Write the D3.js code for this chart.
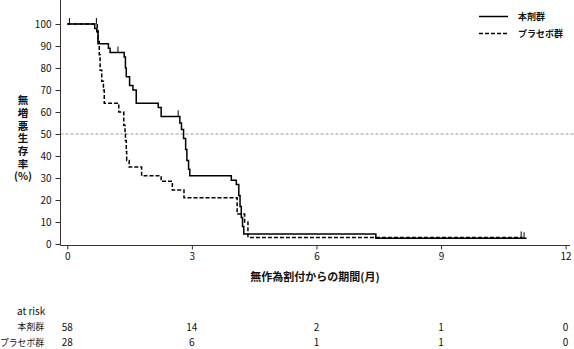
<!DOCTYPE html>
<html>
<head>
<meta charset="utf-8">
<script src="https://cdn.jsdelivr.net/npm/d3@7"></script>
<style>
  body { margin: 0; background: #fff; }
  text { font-family: "Noto Sans CJK JP", "Noto Sans", sans-serif; fill: #111; }
  .tick text { font-size: 10px; }
</style>
</head>
<body>
<div id="chart"></div>
<script>
// values
var monthTicks = [0, 3, 6, 9, 12];
var survTicks = [0, 10, 20, 30, 40, 50, 60, 70, 80, 90, 100];

var drugTime = [0, 0.66, 0.71, 0.74, 0.99, 1.03, 1.37, 1.40, 1.42, 1.50, 1.58, 1.66, 2.19, 2.26,
    2.71, 2.75, 2.80, 2.85, 2.88, 2.92, 2.95, 3.95, 4.07, 4.13, 4.16, 4.19, 4.22, 4.25, 7.43, 11.06];
var drugSurv = [100, 98, 96.5, 91, 89, 87, 85, 80, 76, 72, 70, 64, 62, 58,
    55, 52, 48, 43, 38, 34, 31, 29, 27, 22, 17, 12, 8, 4.5, 2.6, 2.6];
var drugCensor = [0.05, 1.22, 2.67, 11.0];

var placeboTime = [0, 0.72, 0.74, 0.77, 0.79, 0.83, 0.87, 0.89, 1.24, 1.36, 1.39, 1.40, 1.42, 1.43,
    1.49, 1.79, 2.26, 2.53, 2.81, 4.09, 4.27, 4.35, 10.97];
var placeboSurv = [100, 97, 92, 86, 79, 74, 70, 64, 60, 54, 50, 47, 42, 38,
    35, 31, 28.5, 24.5, 21, 13.6, 10, 3.0, 3.0];
var placeboCensor = [0.70, 10.93];

var groupNames = ["本剤群", "プラセボ群"];
var drugRisk = [58, 14, 2, 1, 0];
var placeboRisk = [28, 6, 1, 1, 0];

var width = 574, height = 349;

var svg = d3.select("#chart").append("svg")
    .attr("width", width)
    .attr("height", height);

var x = d3.scaleLinear().domain([0, 12]).range([67.3, 565.6]);
var y = d3.scaleLinear().domain([0, 100]).range([244, 24]);

var axisX = 60.5, axisY = 245.5;

// 50% reference line
svg.append("line")
    .attr("x1", axisX).attr("x2", width)
    .attr("y1", y(50)).attr("y2", y(50))
    .attr("stroke", "#9a9a9a")
    .attr("stroke-width", 1)
    .attr("stroke-dasharray", "3,2");

// axes
var gx = svg.append("g")
    .attr("transform", "translate(0," + axisY + ")")
    .call(d3.axisBottom(x).tickValues(monthTicks).tickSize(4).tickSizeOuter(0).tickPadding(3));
gx.select(".domain").remove();

var gy = svg.append("g")
    .attr("transform", "translate(" + axisX + ",0)")
    .call(d3.axisLeft(y).tickValues(survTicks).tickSize(5).tickSizeOuter(0).tickPadding(4));
gy.select(".domain").remove();

svg.selectAll(".tick line").attr("stroke", "#333");

svg.append("line")
    .attr("x1", axisX).attr("x2", 570)
    .attr("y1", axisY).attr("y2", axisY)
    .attr("stroke", "#333");
svg.append("line")
    .attr("x1", axisX).attr("x2", axisX)
    .attr("y1", 0).attr("y2", axisY)
    .attr("stroke", "#333");

// axis titles
svg.append("text")
    .attr("x", 315).attr("y", 281)
    .attr("text-anchor", "middle")
    .style("font-size", "11px")
    .style("font-weight", "bold")
    .text("無作為割付からの期間(月)");

// vertical y title
svg.append("text")
    .attr("x", 23).attr("y", 95)
    .style("writing-mode", "vertical-rl")
    .style("letter-spacing", "2.2px")
    .style("font-size", "10.5px")
    .style("font-weight", "bold")
    .text("無増悪生存率");

svg.append("text")
    .attr("x", 23).attr("y", 180)
    .attr("text-anchor", "middle")
    .style("font-size", "10.5px")
    .style("font-weight", "bold")
    .text("(%)");

// survival curves
var line = d3.line()
    .x(function(d) { return x(d[0]); })
    .y(function(d) { return y(d[1]); })
    .curve(d3.curveStepAfter);

function survAt(times, surv, t) {
    var i = d3.bisectRight(times, t) - 1;
    return surv[Math.max(0, i)];
}

function drawCurve(times, surv, censor, dash) {
    var pts = times.map(function(t, i) { return [t, surv[i]]; });
    svg.append("path")
        .datum(pts)
        .attr("d", line)
        .attr("fill", "none")
        .attr("stroke", "#000")
        .attr("stroke-width", 1.5)
        .attr("stroke-dasharray", dash);

    svg.selectAll(null)
        .data(censor)
        .enter().append("line")
        .attr("x1", function(d) { return x(d); })
        .attr("x2", function(d) { return x(d); })
        .attr("y1", function(d) { return y(survAt(times, surv, d)); })
        .attr("y2", function(d) { return y(survAt(times, surv, d)) - 6; })
        .attr("stroke", "#000")
        .attr("stroke-width", 1);
}

drawCurve(placeboTime, placeboSurv, placeboCensor, "4,2");
drawCurve(drugTime, drugSurv, drugCensor, null);

// legend
var legend = svg.selectAll("g.legend")
    .data(groupNames)
    .enter().append("g")
    .attr("class", "legend")
    .attr("transform", function(d, i) { return "translate(479," + (16.5 + i * 17) + ")"; });

legend.append("line")
    .attr("x1", 0).attr("x2", 29)
    .attr("stroke", "#000")
    .attr("stroke-width", 1.5)
    .attr("stroke-dasharray", function(d, i) { return i === 1 ? "4,2" : null; });

legend.append("text")
    .attr("x", 39)
    .attr("dy", "0.35em")
    .style("font-size", "9px")
    .style("font-weight", "bold")
    .text(function(d) { return d; });

// at risk table
svg.append("text")
    .attr("x", 17).attr("y", 311)
    .attr("dy", "0.35em")
    .style("font-size", "10px")
    .text("at risk");

var riskRows = [drugRisk, placeboRisk];
riskRows.forEach(function(row, r) {
    var ry = 327 + r * 15.5;
    svg.append("text")
        .attr("x", 44).attr("y", ry)
        .attr("dy", "0.35em")
        .attr("text-anchor", "end")
        .style("font-size", "8.8px")
        .text(groupNames[r]);
    svg.selectAll(null)
        .data(row)
        .enter().append("text")
        .attr("x", function(d, i) { return x(monthTicks[i]); })
        .attr("y", ry)
        .attr("dy", "0.35em")
        .attr("text-anchor", "middle")
        .style("font-size", "10px")
        .text(function(d) { return d; });
});
</script>
</body>
</html>
